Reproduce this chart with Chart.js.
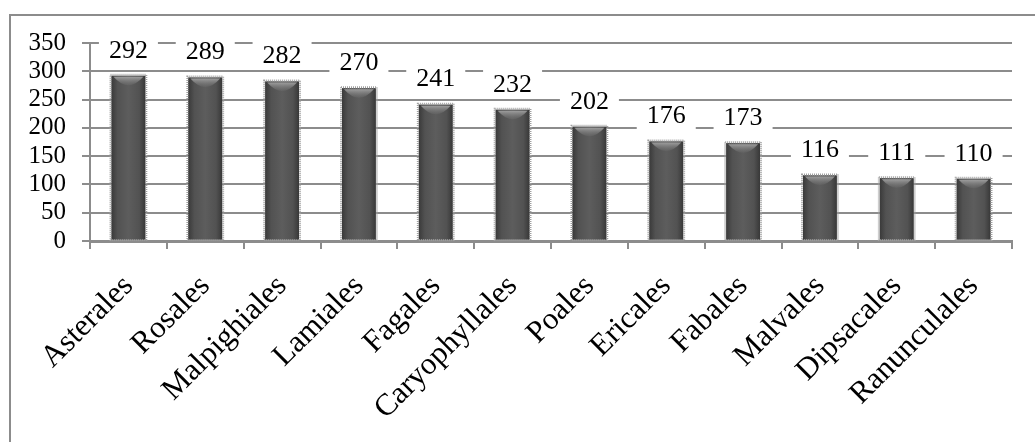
<!DOCTYPE html>
<html>
<head>
<meta charset="utf-8">
<script src="https://cdn.jsdelivr.net/npm/chart.js@4.4.1/dist/chart.umd.min.js"></script>
<style>
  html, body { margin: 0; padding: 0; background: #ffffff; }
  #wrap { position: relative; width: 1035px; height: 442px; }
</style>
</head>
<body>
<div id="wrap"><canvas id="chart" width="1035" height="442"></canvas></div>
<script>
// Number of species per plant order
const orders = ['Asterales', 'Rosales', 'Malpighiales', 'Lamiales', 'Fagales', 'Caryophyllales',
                'Poales', 'Ericales', 'Fabales', 'Malvales', 'Dipsacales', 'Ranunculales'];
const counts = [292, 289, 282, 270, 241, 232, 202, 176, 173, 116, 111, 110];
const yMin = 0;
const yMax = 350;
const yStep = 50;

const SERIF = '"Liberation Serif", "Times New Roman", serif';
const GRID = '#8c8c8c';

// Outer frame of the chart block
const framePlugin = {
  id: 'frame',
  beforeDraw(chart) {
    const ctx = chart.ctx;
    ctx.save();
    ctx.strokeStyle = '#8c8c8c';
    ctx.lineWidth = 2;
    ctx.beginPath();
    ctx.moveTo(10, chart.height + 2);
    ctx.lineTo(10, 15);
    ctx.lineTo(chart.width + 2, 15);
    ctx.stroke();
    ctx.restore();
  }
};

// Cylinder-like shading, top highlight and stippled edge on each bar
const barShadePlugin = {
  id: 'barShade',
  afterDatasetsDraw(chart) {
    const ctx = chart.ctx;
    const meta = chart.getDatasetMeta(0);
    ctx.save();
    meta.data.forEach((bar) => {
      const p = bar.getProps(['x', 'y', 'base', 'width'], true);
      const left = p.x - p.width / 2;
      const w = p.width;
      const h = p.base - p.y;
      // body
      const g = ctx.createLinearGradient(left, 0, left + w, 0);
      g.addColorStop(0, '#3a3a3a');
      g.addColorStop(0.18, '#525252');
      g.addColorStop(0.5, '#5d5d5d');
      g.addColorStop(0.82, '#525252');
      g.addColorStop(1, '#383838');
      ctx.fillStyle = g;
      ctx.fillRect(left, p.y, w, h);
      // top highlight
      const cap = ctx.createLinearGradient(0, p.y, 0, p.y + 12);
      cap.addColorStop(0, 'rgba(175,175,175,0.95)');
      cap.addColorStop(1, 'rgba(110,110,110,0)');
      ctx.fillStyle = cap;
      ctx.beginPath();
      ctx.moveTo(left + 2, p.y + 1);
      ctx.lineTo(left + w - 2, p.y + 1);
      ctx.quadraticCurveTo(p.x, p.y + 18, left + 2, p.y + 1);
      ctx.fill();
      // stippled edge
      ctx.setLineDash([1, 1]);
      ctx.lineWidth = 2;
      ctx.strokeStyle = '#a0a0a0';
      ctx.strokeRect(left - 1, p.y - 1, w + 2, h + 1);
      ctx.setLineDash([]);
    });
    ctx.restore();
  }
};

// Value labels on white boxes above the bars
const valueLabelPlugin = {
  id: 'valueLabels',
  afterDatasetsDraw(chart) {
    const ctx = chart.ctx;
    const meta = chart.getDatasetMeta(0);
    ctx.save();
    ctx.font = '26px ' + SERIF;
    ctx.textAlign = 'center';
    ctx.textBaseline = 'middle';
    meta.data.forEach((bar, i) => {
      const text = String(counts[i]);
      const tw = ctx.measureText(text).width;
      const cy = bar.y - 26;
      ctx.fillStyle = '#ffffff';
      ctx.fillRect(bar.x - tw / 2 - 10, cy - 14, tw + 20, 28);
      ctx.fillStyle = '#000000';
      ctx.fillText(text, bar.x, cy + 1);
    });
    ctx.restore();
  }
};

new Chart(document.getElementById('chart'), {
  type: 'bar',
  data: {
    labels: orders,
    datasets: [{
      data: counts,
      backgroundColor: '#565656',
      borderWidth: 0,
      barPercentage: 0.44,
      categoryPercentage: 1.0
    }]
  },
  options: {
    responsive: false,
    animation: false,
    events: [],
    layout: { padding: { top: 43, right: 23, left: 0, bottom: 0 } },
    plugins: {
      legend: { display: false },
      tooltip: { enabled: false }
    },
    scales: {
      x: {
        grid: {
          offset: true,
          drawOnChartArea: false,
          drawTicks: true,
          tickLength: 8,
          color: GRID,
          lineWidth: 2
        },
        border: { display: true, color: GRID, width: 3 },
        ticks: {
          autoSkip: false,
          maxRotation: 45,
          minRotation: 45,
          padding: 19,
          color: '#000000',
          font: { family: SERIF, size: 31 }
        },
        afterFit(scale) { scale.height = 201; }
      },
      y: {
        min: yMin,
        max: yMax,
        ticks: {
          stepSize: yStep,
          autoSkip: false,
          padding: 16,
          color: '#000000',
          font: { family: SERIF, size: 25, lineHeight: 1 }
        },
        grid: {
          color: GRID,
          lineWidth: 2,
          drawTicks: true,
          tickLength: 8
        },
        border: { display: true, color: GRID, width: 2 },
        afterFit(scale) { scale.width = 90; }
      }
    }
  },
  plugins: [framePlugin, barShadePlugin, valueLabelPlugin]
});
</script>
</body>
</html>
